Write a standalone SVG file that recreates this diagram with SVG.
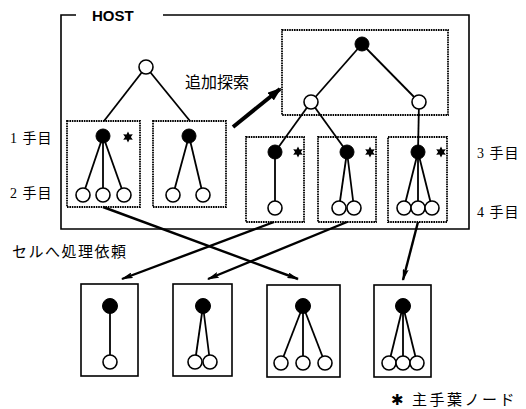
<svg xmlns="http://www.w3.org/2000/svg" width="526" height="409" viewBox="0 0 526 409">
<style>
.host{fill:none;stroke:#000;stroke-width:1.6}
.dot{fill:none;stroke:#000;stroke-width:1.8;stroke-dasharray:1.6 0.8}
.box{fill:#fff;stroke:#000;stroke-width:1.6}
.e{stroke:#000;stroke-width:1.8;fill:none}
.o{fill:#fff;stroke:#000;stroke-width:1.6}
.f{fill:#000;stroke:#000;stroke-width:1}
.arr{stroke:#000;stroke-width:2.4;fill:none;marker-end:url(#ah)}
.jp{font-family:"Noto Sans CJK JP",sans-serif;fill:#000}
.lbl{font-family:"Liberation Serif","Noto Sans CJK JP",serif;font-size:14px;fill:#000;letter-spacing:1px}
</style>
<defs>
<marker id="ah" viewBox="0 0 12 6" refX="11" refY="3" markerWidth="12" markerHeight="6" markerUnits="userSpaceOnUse" orient="auto">
<path d="M0,0 L12,3 L0,6 L2,3 Z" fill="#000"/>
</marker>
<marker id="bh" viewBox="0 0 14 10" refX="12" refY="5" markerWidth="14" markerHeight="10" markerUnits="userSpaceOnUse" orient="auto">
<path d="M0,0 L14,5 L0,10 Z" fill="#000"/>
</marker>
<path id="star" d="M0,-5.5 L1.5,-2.5 L4.8,-2.8 L2.9,0 L4.8,2.8 L1.5,2.5 L0,5.5 L-1.5,2.5 L-4.8,2.8 L-2.9,0 L-4.8,-2.8 L-1.5,-2.5 Z" fill="#000"/>
</defs>

<g id="host">
<path class="host" d="M76,15 L61,15 L61,229 L469,229 L469,15 L163,15"/>
<text x="92" y="21" font-family="Liberation Sans,Arial,sans-serif" font-weight="bold" font-size="15" fill="#000">HOST</text>
</g>

<g id="connectors">
<line class="e" x1="146" y1="67" x2="104" y2="121"/>
<line class="e" x1="146" y1="67" x2="190" y2="121"/>
<line class="e" x1="362" y1="44" x2="311" y2="102"/>
<line class="e" x1="362" y1="44" x2="419" y2="102"/>
<line class="e" x1="311" y1="102" x2="275" y2="152"/>
<line class="e" x1="311" y1="102" x2="347" y2="152"/>
<line class="e" x1="419" y1="102" x2="418" y2="152"/>
<line stroke="#000" stroke-width="4" x1="233" y1="127" x2="280" y2="89" marker-end="url(#bh)"/>
<line class="arr" x1="103" y1="207" x2="298" y2="279"/>
<line class="arr" x1="274" y1="222" x2="122" y2="279"/>
<line class="arr" x1="347" y1="222" x2="208" y2="279"/>
<line class="arr" x1="418" y1="222" x2="403" y2="280"/>
</g>

<g id="root-left">
<circle class="o" cx="146" cy="67" r="7"/>
</g>

<g id="box1">
<rect class="dot" x="67" y="121" width="73" height="86"/>
<line class="e" x1="103" y1="136" x2="83" y2="195"/>
<line class="e" x1="103" y1="136" x2="103" y2="195"/>
<line class="e" x1="103" y1="136" x2="124" y2="195"/>
<circle class="f" cx="103" cy="136" r="7"/>
<use href="#star" x="128" y="137"/>
<circle class="o" cx="83" cy="195" r="7"/>
<circle class="o" cx="103" cy="195" r="7"/>
<circle class="o" cx="124" cy="195" r="7"/>
</g>

<g id="box2">
<rect class="dot" x="153" y="121" width="73" height="86"/>
<line class="e" x1="189" y1="136" x2="173" y2="195"/>
<line class="e" x1="189" y1="136" x2="203" y2="195"/>
<circle class="f" cx="189" cy="136" r="7"/>
<circle class="o" cx="173" cy="195" r="7"/>
<circle class="o" cx="203" cy="195" r="7"/>
</g>

<g id="topbox">
<rect class="dot" x="282" y="30" width="166" height="85"/>
<circle class="f" cx="362" cy="44" r="7"/>
<circle class="o" cx="311" cy="102" r="7"/>
<circle class="o" cx="419" cy="102" r="7"/>
</g>

<g id="box3">
<rect class="dot" x="246" y="137" width="58" height="85"/>
<line class="e" x1="275" y1="152" x2="275" y2="208"/>
<circle class="f" cx="275" cy="152" r="7"/>
<use href="#star" x="298" y="152"/>
<circle class="o" cx="275" cy="208" r="7"/>
</g>

<g id="box4">
<rect class="dot" x="318" y="137" width="58" height="85"/>
<line class="e" x1="347" y1="152" x2="339" y2="208"/>
<line class="e" x1="347" y1="152" x2="354" y2="208"/>
<circle class="f" cx="347" cy="152" r="7"/>
<use href="#star" x="370" y="152"/>
<circle class="o" cx="339" cy="208" r="7"/>
<circle class="o" cx="354" cy="208" r="7"/>
</g>

<g id="box5">
<rect class="dot" x="388" y="137" width="59" height="85"/>
<line class="e" x1="418" y1="152" x2="404" y2="208"/>
<line class="e" x1="418" y1="152" x2="418" y2="208"/>
<line class="e" x1="418" y1="152" x2="432" y2="208"/>
<circle class="f" cx="418" cy="152" r="7"/>
<use href="#star" x="441" y="152"/>
<circle class="o" cx="404" cy="208" r="7"/>
<circle class="o" cx="418" cy="208" r="7"/>
<circle class="o" cx="432" cy="208" r="7"/>
</g>

<g id="cellA">
<rect class="box" x="81" y="284" width="57" height="92"/>
<line class="e" x1="110" y1="306" x2="110" y2="362"/>
<circle class="f" cx="110" cy="306" r="7.5"/>
<circle class="o" cx="110" cy="362" r="7"/>
</g>

<g id="cellB">
<rect class="box" x="173" y="284" width="59" height="92"/>
<line class="e" x1="203" y1="306" x2="195" y2="362"/>
<line class="e" x1="203" y1="306" x2="210" y2="362"/>
<circle class="f" cx="203" cy="306" r="7.5"/>
<circle class="o" cx="195" cy="362" r="7"/>
<circle class="o" cx="210" cy="362" r="7"/>
</g>

<g id="cellC">
<rect class="box" x="267" y="285" width="73" height="92"/>
<line class="e" x1="303" y1="306" x2="281" y2="363"/>
<line class="e" x1="303" y1="306" x2="303" y2="363"/>
<line class="e" x1="303" y1="306" x2="325" y2="363"/>
<circle class="f" cx="303" cy="306" r="7.5"/>
<circle class="o" cx="281" cy="363" r="7"/>
<circle class="o" cx="303" cy="363" r="7"/>
<circle class="o" cx="325" cy="363" r="7"/>
</g>

<g id="cellD">
<rect class="box" x="374" y="285" width="57" height="92"/>
<line class="e" x1="403" y1="306" x2="389" y2="363"/>
<line class="e" x1="403" y1="306" x2="403" y2="363"/>
<line class="e" x1="403" y1="306" x2="417" y2="363"/>
<circle class="f" cx="403" cy="306" r="7.5"/>
<circle class="o" cx="389" cy="363" r="7"/>
<circle class="o" cx="403" cy="363" r="7"/>
<circle class="o" cx="417" cy="363" r="7"/>
</g>

<g id="labels">
<text class="jp" x="185" y="88" font-size="16">追加探索</text>
<text class="jp" x="12" y="257" font-size="15" letter-spacing="1.5">セルへ処理依頼</text>
<text class="lbl" x="10" y="143">1 手目</text>
<text class="lbl" x="10" y="198">2 手目</text>
<text class="lbl" x="477" y="158">3 手目</text>
<text class="lbl" x="477" y="217">4 手目</text>
<text class="jp" x="391" y="405" font-size="15" letter-spacing="2.5"><tspan font-family="DejaVu Sans,sans-serif">✱</tspan> 主手葉ノード</text>
</g>
</svg>
